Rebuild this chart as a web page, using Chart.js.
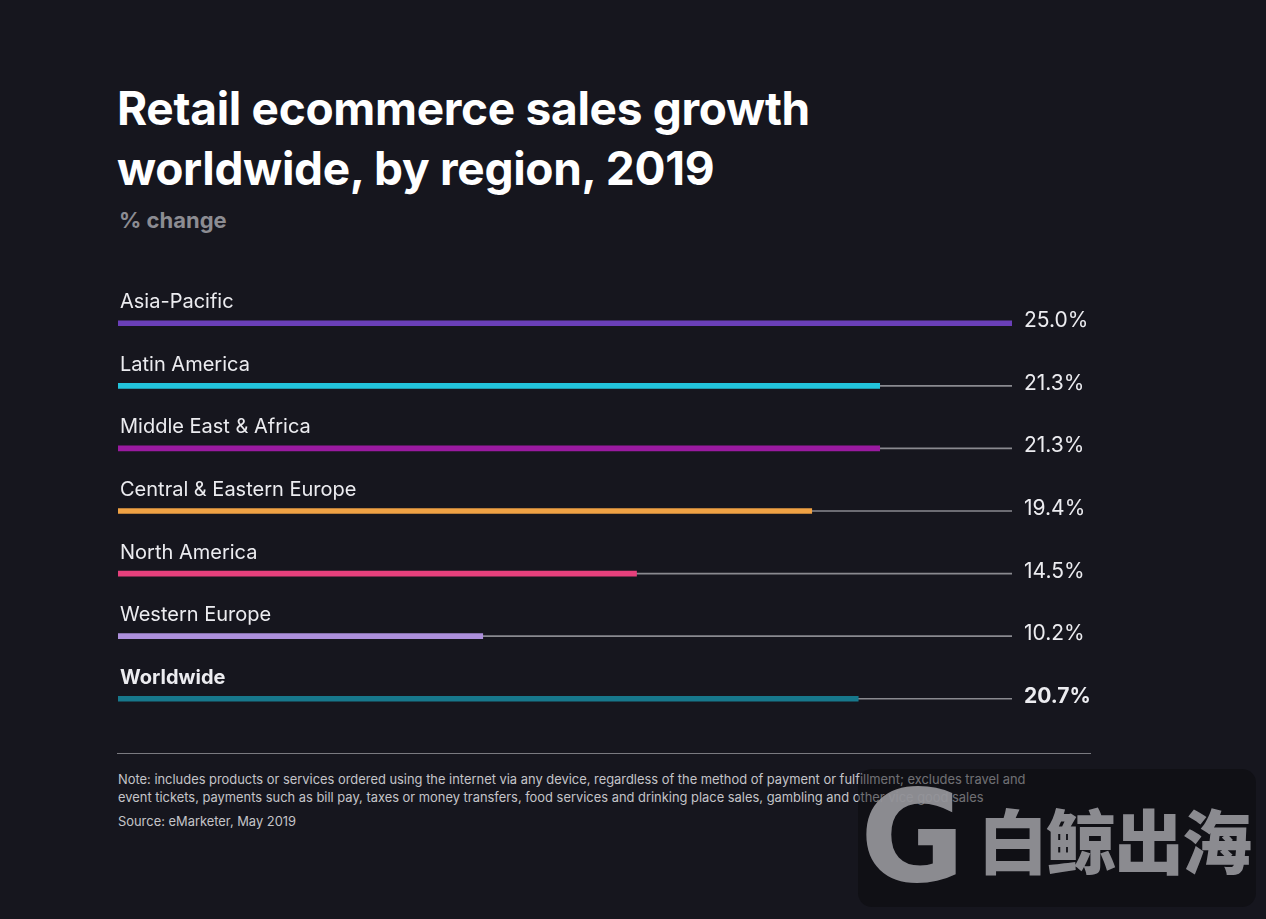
<!DOCTYPE html>
<html>
<head>
<meta charset="utf-8">
<script src="https://cdn.jsdelivr.net/npm/chart.js@4/dist/chart.umd.min.js"></script>
<style>
  html, body { margin: 0; padding: 0; }
  body {
    width: 1266px; height: 919px; position: relative; overflow: hidden;
    background: #16161e; font-family: Inter, "Noto Sans", sans-serif; color: #fff;
  }
  #title {
    position: absolute; left: 117px; top: 78px; margin: 0;
    font-size: 46px; font-weight: 700; line-height: 60px; letter-spacing: -0.3px;
  }
  #subtitle {
    position: absolute; left: 119px; top: 207px;
    font-size: 22px; font-weight: 700; color: #8c8c92;
  }
  #wrap { position: absolute; left: 0; top: 270px; width: 1266px; height: 480px; }
  #rule { position: absolute; left: 117px; top: 753px; width: 974px; height: 1px; background: #7a7a80; }
  #note {
    position: absolute; left: 118px; top: 771px; width: 940px;
    font-size: 12.9px; line-height: 18px; color: #c4c4c8;
  }
  #source { position: absolute; left: 118px; top: 814px; font-size: 12.9px; color: #c4c4c8; }
  #mark {
    position: absolute; left: 858px; top: 769px; width: 398px; height: 138px;
    border-radius: 14px; background: rgba(8, 8, 12, 0.45);
  }
  #mark .g {
    position: absolute; left: 2px; top: 4px; font-size: 128px; font-weight: 900;
    line-height: 128px; color: rgba(150, 150, 155, 0.92); font-family: "DejaVu Sans", sans-serif;
  }
  #mark .cn {
    position: absolute; left: 120px; top: 30px; font-size: 70px; font-weight: 900;
    line-height: 80px; color: rgba(150, 150, 155, 0.92); font-family: "Noto Sans CJK SC", sans-serif; letter-spacing: -2px;
  }
</style>
</head>
<body>
<h1 id="title">Retail ecommerce sales growth<br>worldwide, by region, 2019</h1>
<div id="subtitle">% change</div>
<div id="wrap"><canvas id="chart"></canvas></div>
<div id="rule"></div>
<div id="note">Note: includes products or services ordered using the internet via any device, regardless of the method of payment or fulfillment; excludes travel and<br>event tickets, payments such as bill pay, taxes or money transfers, food services and drinking place sales, gambling and other vice good sales</div>
<div id="source">Source: eMarketer, May 2019</div>
<div id="mark"><span class="g">G</span><span class="cn">白鲸出海</span></div>

<script>
// ----- Data -----
const regions = ['Asia-Pacific', 'Latin America', 'Middle East & Africa', 'Central & Eastern Europe', 'North America', 'Western Europe', 'Worldwide'];
const growth = [25.0, 21.3, 21.3, 19.4, 14.5, 10.2, 20.7];
const valueLabels = ['25.0%', '21.3%', '21.3%', '19.4%', '14.5%', '10.2%', '20.7%'];
const barColors = ['#6a3fb8', '#22c4dc', '#9a1aa0', '#f0a244', '#e6407c', '#ad90dc', '#17788c'];
const axisMax = 25;

// gray track behind every bar, running to the end of the axis
const track = regions.map(() => axisMax);

// ----- Labels above the bars and values at the right -----
const rowLabels = {
  id: 'rowLabels',
  afterDatasetsDraw(chart) {
    const ctx = chart.ctx;
    const yScale = chart.scales.y;
    const area = chart.chartArea;
    ctx.save();
    ctx.fillStyle = '#ececf0';
    regions.forEach((name, i) => {
      const y = yScale.getPixelForValue(i);
      const bold = name === 'Worldwide';
      ctx.font = (bold ? '700 ' : '400 ') + '20px Inter, sans-serif';
      ctx.textAlign = 'left';
      ctx.textBaseline = 'alphabetic';
      ctx.fillText(name, area.left + 2, y - 15);
      ctx.font = (bold ? '700 ' : '400 ') + '21px Inter, sans-serif';
      ctx.fillText(valueLabels[i], area.right + 12, y + 4);
    });
    ctx.restore();
  }
};

const ctx = document.getElementById('chart').getContext('2d');
new Chart(ctx, {
  type: 'bar',
  data: {
    labels: regions,
    datasets: [
      {
        data: growth,
        backgroundColor: barColors,
        barThickness: 5,
        grouped: false,
        borderSkipped: false
      },
      {
        data: track,
        backgroundColor: '#8a8a90',
        barThickness: 1,
        grouped: false
      }
    ]
  },
  options: {
    indexAxis: 'y',
    responsive: true,
    maintainAspectRatio: false,
    animation: false,
    layout: { padding: { left: 118, right: 254, top: 22, bottom: 20 } },
    plugins: {
      legend: { display: false },
      tooltip: { enabled: false }
    },
    scales: {
      x: { display: false, min: 0, max: axisMax },
      y: { display: false }
    }
  },
  plugins: [rowLabels]
});
</script>
</body>
</html>
